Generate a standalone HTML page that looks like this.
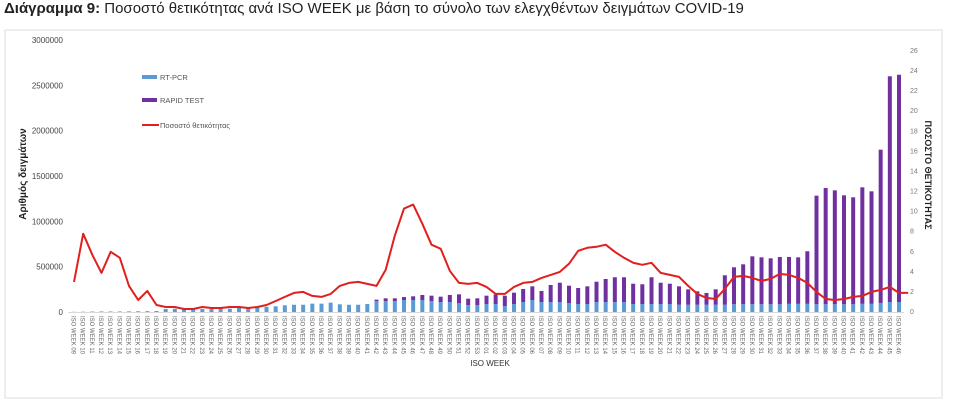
<!DOCTYPE html>
<html><head><meta charset="utf-8">
<style>
html,body{margin:0;padding:0;background:#fff;}
body{width:956px;height:411px;overflow:hidden;font-family:"Liberation Sans","Noto Sans CJK SC",sans-serif;}
#title{position:absolute;left:4px;top:0px;font-size:15px;color:#222;white-space:nowrap;}
svg{position:absolute;left:0;top:0;}
</style></head><body>
<div id="title"><b>Διάγραμμα 9:</b> Ποσοστό θετικότητας ανά ISO WEEK με βάση το σύνολο των ελεγχθέντων δειγμάτων COVID-19</div>
<svg id="chart" width="956" height="411"></svg>
<script>
const weeks = ["09","10","11","12","13","14","15","16","17","18","19","20","21","22","23","24","25","26","27","28","29","30","31","32","33","34","35","36","37","38","39","40","41","42","43","44","45","46","47","48","49","50","51","52","53",
"01","02","03","04","05","06","07","08","09","10","11","12","13","14","15","16","17","18","19","20","21","22","23","24","25","26","27","28","29","30","31","32","33","34","35","36","37","38","39","40","41","42","43","44","45","46"];
// thousands of samples
const rtpcr = [2,3,5,6,6,6,7,8,9,11,33,36,30,33,33,33,36,36,44,47,52,58,63,74,80,80,92,92,103,85,80,80,88,121,121,121,132,132,132,121,110,110,99,77,77,
88,88,66,88,110,132,110,110,110,99,88,88,110,110,110,110,88,88,88,88,88,80,80,80,80,80,80,85,85,85,85,85,85,90,90,90,85,85,85,85,85,90,90,100,110,110];
const rapid = [0,0,0,0,0,0,0,0,0,0,0,0,0,0,0,0,0,0,0,0,0,0,0,0,0,0,0,0,0,0,0,0,0,15,30,30,33,41,56,59,59,78,96,70,74,
92,107,114,125,144,151,122,188,213,191,177,195,224,254,273,273,224,218,295,235,224,203,170,148,130,170,325,408,441,529,518,507,522,517,513,580,1198,1283,1257,1202,1180,1285,1241,1690,2490,2507];
const positivity = [2.9,7.7,5.6,3.8,5.9,5.3,2.5,1.1,2.0,0.6,0.4,0.4,0.2,0.2,0.4,0.3,0.3,0.4,0.4,0.3,0.4,0.6,1.0,1.4,1.8,1.9,1.5,1.4,1.7,2.5,2.8,2.9,2.7,2.5,4.1,7.5,10.2,10.6,8.7,6.6,6.2,4.0,2.8,2.7,2.8,
2.4,1.7,1.7,2.4,2.8,2.9,3.3,3.6,3.9,4.7,6.0,6.3,6.4,6.6,5.9,5.3,4.8,4.6,4.8,3.8,3.6,3.4,2.5,1.7,1.3,1.2,2.2,3.4,3.5,3.3,3.0,3.2,3.7,3.6,3.3,2.8,1.9,1.2,1.1,1.2,1.4,1.5,1.9,2.1,2.4,1.8,1.8];
const leftTicks = [0,500000,1000000,1500000,2000000,2500000,3000000];
const rightTicks = [0,2,4,6,8,10,12,14,16,18,20,22,24,26];

const NS="http://www.w3.org/2000/svg";
const svg=document.getElementById('chart');
function mk(tag,attrs,parent){const e=document.createElementNS(NS,tag);for(const k in attrs)e.setAttribute(k,attrs[k]);(parent||svg).appendChild(e);return e;}
const x0=74, x1=899;
function xs(i){return x0+i*(x1-x0)/(weeks.length-1);}
function yl(v){return 312-v/3000000*272;}
function yr(v){return 311-v/26*261;}

const frame=mk('rect',{x:5,y:30,width:937,height:368,fill:'none',stroke:'#ddd','stroke-width':1});



leftTicks.forEach(t=>{
  const tx=mk('text',{x:63,y:yl(t)+3,'text-anchor':'end','font-size':8,fill:'#444'});
  tx.textContent=t;
  
  
});
rightTicks.forEach(t=>{
  const tx=mk('text',{x:910,y:yr(t)+3,'font-size':7,fill:'#777'});
  tx.textContent=t;
  
  
});
const baseline=mk('line',{x1:68,x2:904,y1:312.5,y2:312.5,stroke:'#d9d9d9','stroke-width':1});



const yt=mk('text',{x:0,y:0,transform:'translate(26,174) rotate(-90)','text-anchor':'middle','font-size':10,'font-weight':'bold',fill:'#222'});
yt.textContent='Αριθμός δειγμάτων';


const yt2=mk('text',{x:0,y:0,transform:'translate(925,175) rotate(90)','text-anchor':'middle','font-size':9,'font-weight':'bold',fill:'#222'});
yt2.textContent='ΠΟΣΟΣΤΟ ΘΕΤΙΚΟΤΗΤΑΣ';


const xt=mk('text',{x:490,y:366,'text-anchor':'middle','font-size':8,fill:'#333'});
xt.textContent='ISO WEEK';



const bw=4;
weeks.forEach((w,i)=>{
  const x=xs(i);
  const p=rtpcr[i]*1000, r=rapid[i]*1000;
  const b1=mk('rect',{x:x-bw/2,y:yl(p),width:bw,height:312-yl(p),fill:'#5b9bd5'});
  
  
  if(r>0){
    const b2=mk('rect',{x:x-bw/2,y:yl(p+r),width:bw,height:yl(p)-yl(p+r),fill:'#7030a0'});
    
    
  }
  const lb=mk('text',{x:0,y:0,transform:`translate(${x-2.5},316) rotate(90)`,'font-size':6,fill:'#666'});
  lb.textContent='ISO WEEK '+w;
  
  
});
const pts=positivity.map((v,i)=>xs(i).toFixed(1)+','+yr(v).toFixed(1)).join(' ');
const line=mk('polyline',{points:pts,fill:'none',stroke:'#e01f1f','stroke-width':2,'stroke-linejoin':'round'});



const legend=[['RT-PCR','#5b9bd5','rect',77],['RAPID TEST','#7030a0','rect',100],['Ποσοστό θετικότητας','#e01f1f','line',125]];
legend.forEach(l=>{
  const g=mk('g',{});
  
  
  if(l[2]==='rect') mk('rect',{x:142,y:l[3]-2,width:15,height:4,fill:l[1]},g);
  else mk('line',{x1:142,x2:159,y1:l[3],y2:l[3],stroke:l[1],'stroke-width':2},g);
  const t=mk('text',{x:160,y:l[3]+3,'font-size':7.5,fill:'#555'},g);
  t.textContent=l[0];
});
</script>
</body></html>
